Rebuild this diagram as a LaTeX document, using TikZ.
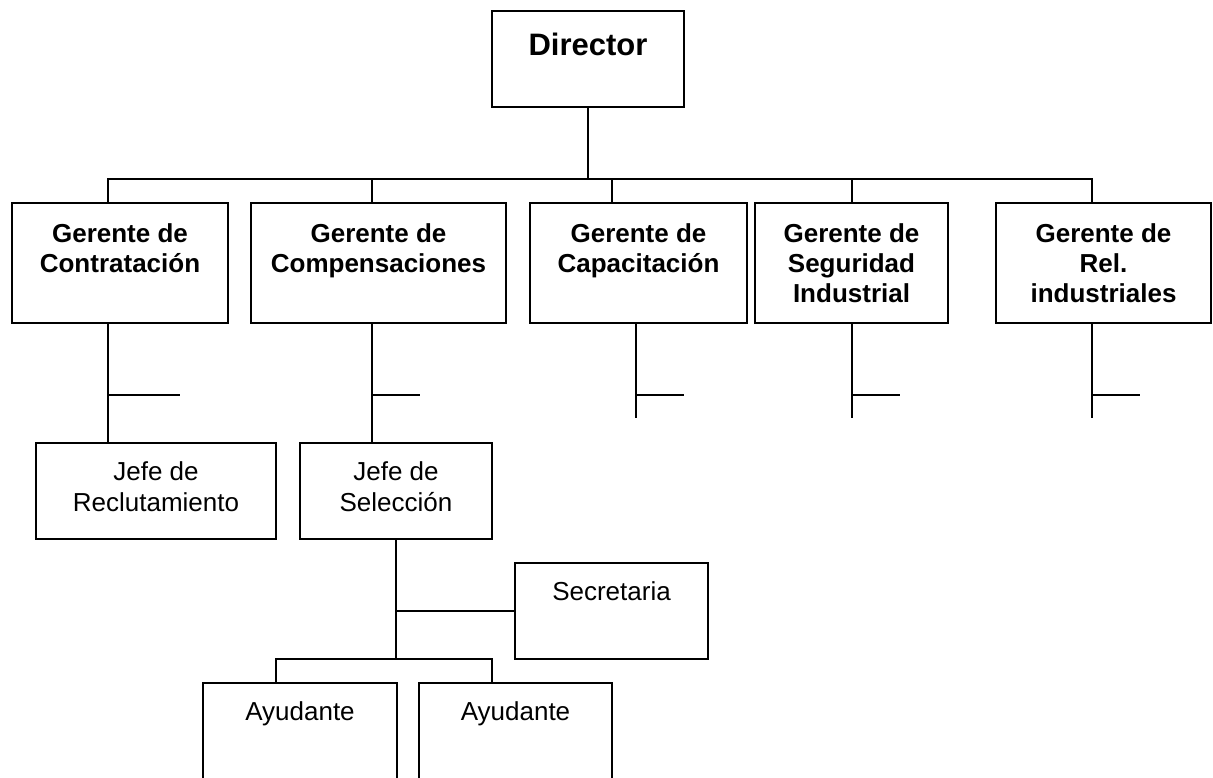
\documentclass[tikz,border=0pt]{standalone}
\usepackage{fontspec}
\setmainfont{Liberation Sans}
\usetikzlibrary{calc}

\tikzset{
    orgbox/.style 2 args={draw, rectangle, anchor=north west, inner sep=0pt, outer sep=0pt,
        minimum width=#1, minimum height=#2},
    headtext/.style={anchor=north, inner sep=0pt, yshift=-21pt,
        font=\bfseries\fontsize{31}{36}\selectfont},
    boldtext/.style={anchor=north, inner sep=0pt, yshift=-20pt, align=center,
        font=\bfseries\fontsize{26}{30}\selectfont},
    plaintext/.style={anchor=north, inner sep=0pt, yshift=-18pt, align=center,
        font=\fontsize{26}{31}\selectfont},
}

\begin{document}
\begin{tikzpicture}[x=1pt, y=-1pt, line width=1.6pt]
    % Page frame (the two bottom boxes run off the edge)
    \path[use as bounding box] (0,0) rectangle (1213,777);
    \fill[white] (0,0) rectangle (1213,777);
    \clip (0,0) rectangle (1213,777);

    % Director
    \node[orgbox={192pt}{96pt}, label={[headtext]north:Director}] (dir) at (492,11) {};

    % Gerentes
    \node[orgbox={216pt}{120pt}, label={[boldtext]north:{Gerente de\\Contratación}}] (gcon) at (12,203) {};
    \node[orgbox={255pt}{120pt}, label={[boldtext]north:{Gerente de\\Compensaciones}}] (gcom) at (251,203) {};
    \node[orgbox={217pt}{120pt}, label={[boldtext]north:{Gerente de\\Capacitación}}] (gcap) at (530,203) {};
    \node[orgbox={193pt}{120pt}, label={[boldtext]north:{Gerente de\\Seguridad\\Industrial}}] (gseg) at (755,203) {};
    \node[orgbox={215pt}{120pt}, label={[boldtext]north:{Gerente de\\Rel.\\industriales}}] (grel) at (996,203) {};

    % Jefes
    \node[orgbox={240pt}{96pt}, label={[plaintext]north:{Jefe de\\Reclutamiento}}] (jrec) at (36,443) {};
    \node[orgbox={192pt}{96pt}, label={[plaintext]north:{Jefe de\\Selección}}] (jsel) at (300,443) {};

    % Staff under Jefe de Selección
    \node[orgbox={193pt}{96pt}, label={[plaintext]north:Secretaria}] (secr) at (515,563) {};
    \node[orgbox={194pt}{130pt}, label={[plaintext]north:Ayudante}] (ayu1) at (203,683) {};
    \node[orgbox={193pt}{130pt}, label={[plaintext]north:Ayudante}] (ayu2) at (419,683) {};

    % Director to gerentes
    \coordinate (bus) at (0,179);
    \draw (dir.south) -- (dir.south |- bus);
    \draw[line cap=rect] (108,179) -- (1092,179);
    \foreach \n/\x in {gcon/108, gcom/372, gcap/612, gseg/852, grel/1092}
        \draw (\x,0 |- bus) -- (\x,0 |- \n.north);

    % Gerentes to jefes
    \draw (108,0 |- gcon.south) -- (108,0 |- jrec.north);
    \draw (108,395) -- ++(72,0);
    \draw (372,0 |- gcom.south) -- (372,0 |- jsel.north);
    \draw (372,395) -- ++(48,0);

    % Open branches
    \foreach \n/\x in {gcap/636, gseg/852, grel/1092} {
        \draw (\x,0 |- \n.south) -- (\x,418);
        \draw (\x,395) -- ++(48,0);
    }

    % Jefe de Selección to its staff
    \coordinate (split) at (396,659);
    \draw (jsel.south) -- (jsel.south |- split);
    \draw (jsel.south |- secr.west) -- (secr.west);
    \draw[line join=miter] (276,0 |- ayu1.north) -- (276,659) -- (492,659) -- (492,0 |- ayu2.north);
\end{tikzpicture}
\end{document}
